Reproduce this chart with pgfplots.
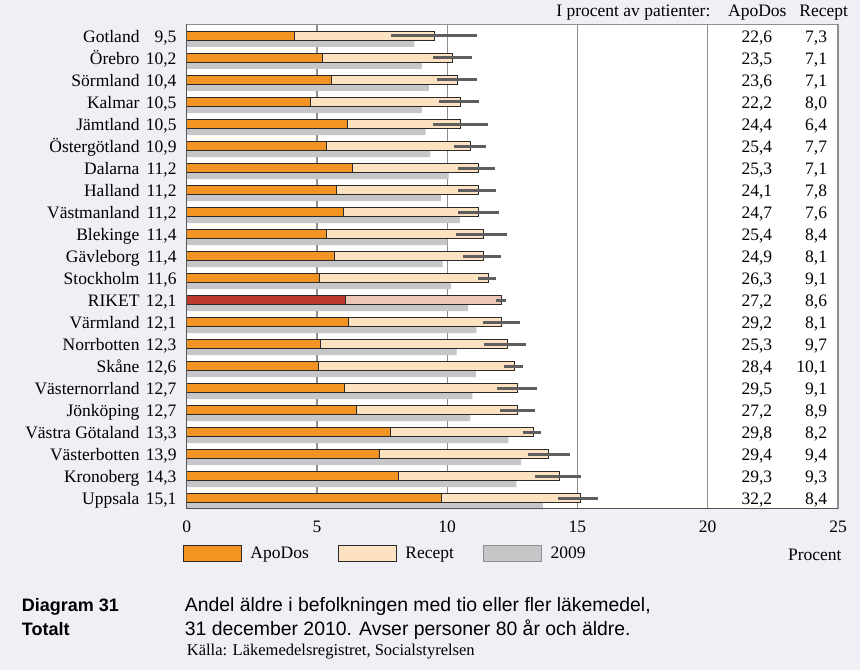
\documentclass[border=0pt]{standalone}
\usepackage{fontspec}
\setmainfont{Liberation Serif}
\newfontfamily\capsans{Liberation Sans}
\usepackage{pgfplots}
\usepackage{pgfplotstable}
\pgfplotsset{compat=1.18}
\definecolor{bgcol}{HTML}{EFF0F5}
\definecolor{apo}{HTML}{F39422}
\definecolor{peach}{HTML}{FDE2C1}
\definecolor{gray09}{HTML}{C6C6C8}
\definecolor{rikred}{HTML}{BC3A2D}
\definecolor{rikpink}{HTML}{EDC6B6}
\definecolor{gridgray}{HTML}{8F8F8F}
\definecolor{framedark}{HTML}{555555}
\definecolor{errgray}{HTML}{5E5E5E}
\definecolor{outl}{HTML}{2A2A2A}
\newcommand\lblfont{\fontsize{17.5}{20}\selectfont}
\newcommand\yl[2]{#1\hspace{7pt}\makebox[30pt][r]{#2}}

\pgfplotstableread{
pos total apo y09 lo hi pA pR
21 9.5 4.13 8.74 7.85 11.14 22.6 7.3
20 10.2 5.20 9.03 9.44 10.94 23.5 7.1
19 10.4 5.55 9.30 9.59 11.14 23.6 7.1
18 10.5 4.77 9.03 9.67 11.22 22.2 8.0
17 10.5 6.16 9.17 9.44 11.56 24.4 6.4
16 10.9 5.37 9.35 10.26 11.49 25.4 7.7
15 11.2 6.35 10.05 10.41 11.85 25.3 7.1
14 11.2 5.76 9.76 10.41 11.89 24.1 7.8
13 11.2 6.03 10.49 10.41 11.99 24.7 7.6
12 11.4 5.38 10.01 10.34 12.31 25.4 8.4
11 11.4 5.66 9.82 10.60 12.07 24.9 8.1
10 11.6 5.10 10.15 11.17 11.86 26.3 9.1
9 12.1 6.10 10.80 11.89 12.27 27.2 8.6
8 12.1 6.20 11.12 11.37 12.81 29.2 8.1
7 12.3 5.13 10.36 11.43 13.04 25.3 9.7
6 12.6 5.04 11.10 12.17 12.92 28.4 10.1
5 12.7 6.07 10.97 11.90 13.46 29.5 9.1
4 12.7 6.51 10.89 12.03 13.37 27.2 8.9
3 13.3 7.81 12.35 12.91 13.60 29.8 8.2
2 13.9 7.40 12.84 13.11 14.70 29.4 9.4
1 14.3 8.14 12.65 13.37 15.14 29.3 9.3
0 15.1 9.77 13.67 14.27 15.78 32.2 8.4
}\data

\pgfplotstableread{
pos total apo
9 12.1 6.10
}\riket

\begin{document}
\begin{tikzpicture}
\path[use as bounding box, fill=bgcol] (-186.7pt,-161.7pt) rectangle (673.3pt,508.3pt);
\begin{axis}[
  scale only axis,
  width=651.3pt, height=484pt,
  xmin=0, xmax=25, ymin=-0.459, ymax=21.53,
  axis background/.style={fill=white},
  axis line style={draw=gridgray, line width=1.2pt},
  xtick={0,5,10,15,20,25},
  major tick length=0pt,
  xmajorgrids,
  grid style={draw=gridgray, line width=1.2pt},
  ytick={0,...,21},
  yticklabels={\yl{Uppsala}{15,1},\yl{Kronoberg}{14,3},\yl{Västerbotten}{13,9},\yl{Västra Götaland}{13,3},\yl{Jönköping}{12,7},\yl{Västernorrland}{12,7},\yl{Skåne}{12,6},\yl{Norrbotten}{12,3},\yl{Värmland}{12,1},\yl{RIKET}{12,1},\yl{Stockholm}{11,6},\yl{Gävleborg}{11,4},\yl{Blekinge}{11,4},\yl{Västmanland}{11,2},\yl{Halland}{11,2},\yl{Dalarna}{11,2},\yl{Östergötland}{10,9},\yl{Jämtland}{10,5},\yl{Kalmar}{10,5},\yl{Sörmland}{10,4},\yl{Örebro}{10,2},\yl{Gotland}{9,5}},
  yticklabel style={anchor=base east, inner sep=0pt, xshift=-10pt, yshift=-6.5pt, font=\lblfont},
  xticklabel style={font=\lblfont, yshift=-9pt},
  /pgf/number format/assume math mode=true,
  legend image code/.code={\draw[#1] (0pt,-8pt) rectangle (58pt,8pt);},
  legend style={at={(axis description cs:0,0)}, anchor=north west, xshift=-4pt, yshift=-36.7pt,
    legend columns=-1, draw=none, fill=none, inner sep=0pt, font=\lblfont,
    nodes={inner sep=0pt},
    /tikz/every odd column/.append style={column sep=8.6pt},
    /tikz/every even column/.append style={column sep=29pt}},
  clip=false,
]
% 2009 bars
\addplot[forget plot, xbar, bar width=6.7pt, bar shift=0pt, fill=gray09, draw=none]
  table[x=y09, y expr=\thisrow{pos}-0.348] {\data};
% total (Recept) bars
\addplot[forget plot, xbar, bar width=8.6pt, bar shift=0pt, fill=peach, draw=outl, line width=1pt,
  skip coords between index={12}{13}]
  table[x=total, y=pos] {\data};
% ApoDos bars
\addplot[forget plot, xbar, bar width=8.6pt, bar shift=0pt, fill=apo, draw=outl, line width=1pt,
  skip coords between index={12}{13}]
  table[x=apo, y=pos] {\data};
% RIKET
\addplot[forget plot, xbar, bar width=8.6pt, bar shift=0pt, fill=rikpink, draw=outl, line width=1pt]
  table[x=total, y=pos] {\riket};
\addplot[forget plot, xbar, bar width=8.6pt, bar shift=0pt, fill=rikred, draw=outl, line width=1pt]
  table[x=apo, y=pos] {\riket};
% confidence intervals
\addplot[forget plot, draw=none, mark=none,
  error bars/.cd, x dir=both, x explicit, y dir=none, error mark=none,
  error bar style={line width=3pt, draw=errgray}]
  table[x=total, y=pos, x error plus expr=\thisrow{hi}-\thisrow{total}, x error minus expr=\thisrow{total}-\thisrow{lo}] {\data};
% percentage columns
\addplot[forget plot, draw=none, mark=none, point meta=\thisrow{pA},
  nodes near coords={\pgfmathprintnumber[fixed,fixed zerofill,precision=1,use comma]{\pgfplotspointmeta}},
  every node near coord/.append style={anchor=base east, inner sep=0pt, yshift=-6.5pt, font=\lblfont, text=black}]
  table[x expr=22.48, y=pos] {\data};
\addplot[forget plot, draw=none, mark=none, point meta=\thisrow{pR},
  nodes near coords={\pgfmathprintnumber[fixed,fixed zerofill,precision=1,use comma]{\pgfplotspointmeta}},
  every node near coord/.append style={anchor=base east, inner sep=0pt, yshift=-6.5pt, font=\lblfont, text=black}]
  table[x expr=24.59, y=pos] {\data};
% legend
\addlegendimage{fill=apo, draw=outl, line width=1pt}
\addlegendentry{ApoDos}
\addlegendimage{fill=peach, draw=outl, line width=1pt}
\addlegendentry{Recept}
\addlegendimage{fill=gray09, draw=gridgray, line width=1pt}
\addlegendentry{2009}
% left and bottom axis lines
\draw[framedark, line width=1.5pt] (rel axis cs:0,1) -- (rel axis cs:0,0) -- (rel axis cs:1,0);
% headers
\node[anchor=base east, inner sep=0pt, font=\lblfont] at ([yshift=7.6pt]axis cs:20.11,21.53) {I procent av patienter:};
\node[anchor=base east, inner sep=0pt, font=\lblfont] at ([yshift=7.6pt]axis cs:23.03,21.53) {ApoDos};
\node[anchor=base east, inner sep=0pt, font=\lblfont] at ([yshift=7.6pt]axis cs:25.39,21.53) {Recept};
\node[anchor=base east, inner sep=0pt, font=\lblfont] at ([xshift=3.7pt,yshift=-51.7pt]rel axis cs:1,0) {Procent};
\end{axis}
% caption
\node[anchor=base west, inner sep=0pt, font=\capsans\bfseries\fontsize{18}{21}\selectfont] at (-165pt,-103.4pt) {Diagram 31};
\node[anchor=base west, inner sep=0pt, font=\capsans\bfseries\fontsize{18}{21}\selectfont] at (-165pt,-126.7pt) {Totalt};
\node[anchor=base west, inner sep=0pt, font=\capsans\fontsize{19.4}{22}\selectfont] at (-2pt,-103.4pt) {Andel äldre i befolkningen med tio eller fler läkemedel,};
\node[anchor=base west, inner sep=0pt, font=\capsans\fontsize{19.4}{22}\selectfont] at (-2pt,-126.7pt) {31 december 2010. Avser personer 80 år och äldre.};
\node[anchor=base west, inner sep=0pt, font=\fontsize{16.5}{18}\selectfont] at (0pt,-146.7pt) {Källa: Läkemedelsregistret, Socialstyrelsen};
\end{tikzpicture}
\end{document}
